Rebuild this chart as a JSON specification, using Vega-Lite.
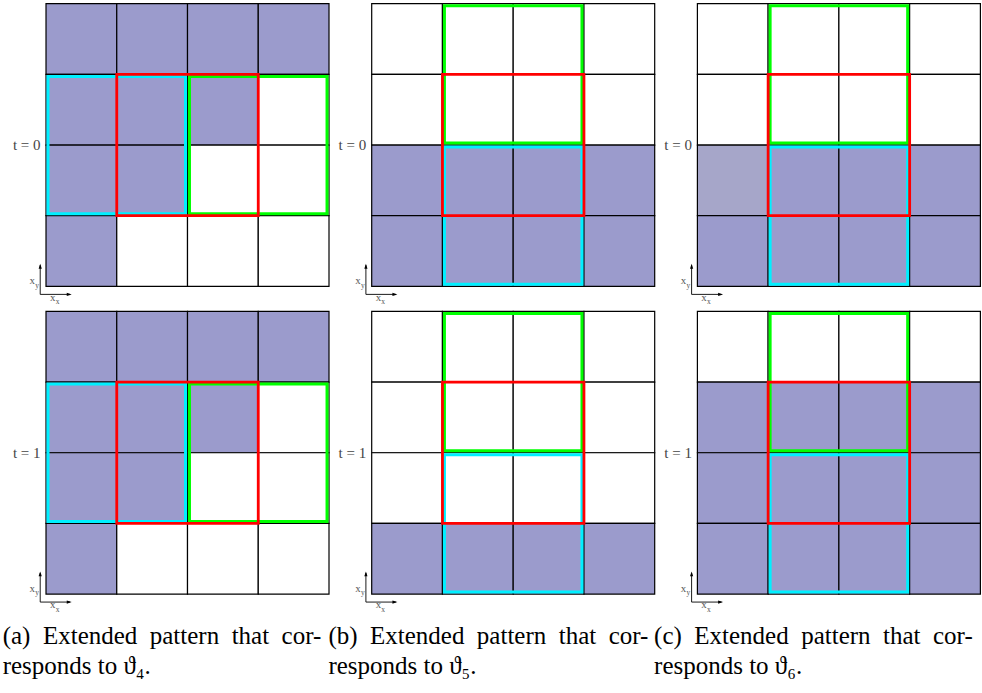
{
  "$schema": "https://vega.github.io/schema/vega-lite/v6.json",
  "background": "white",
  "padding": {"left": 2, "top": 2.7, "right": 0, "bottom": 0},
  "autosize": {"type": "pad"},
  "config": {"view": {"stroke": null}},
  "data": {"values": [
    {"k":"cell","p":"a","t":0,"r":3,"c":0,"s":"on"},{"k":"cell","p":"a","t":0,"r":3,"c":1,"s":"on"},{"k":"cell","p":"a","t":0,"r":3,"c":2,"s":"on"},{"k":"cell","p":"a","t":0,"r":3,"c":3,"s":"on"},
    {"k":"cell","p":"a","t":0,"r":2,"c":0,"s":"on"},{"k":"cell","p":"a","t":0,"r":2,"c":1,"s":"on"},{"k":"cell","p":"a","t":0,"r":2,"c":2,"s":"on"},{"k":"cell","p":"a","t":0,"r":2,"c":3,"s":"off"},
    {"k":"cell","p":"a","t":0,"r":1,"c":0,"s":"on"},{"k":"cell","p":"a","t":0,"r":1,"c":1,"s":"on"},{"k":"cell","p":"a","t":0,"r":1,"c":2,"s":"off"},{"k":"cell","p":"a","t":0,"r":1,"c":3,"s":"off"},
    {"k":"cell","p":"a","t":0,"r":0,"c":0,"s":"on"},{"k":"cell","p":"a","t":0,"r":0,"c":1,"s":"off"},{"k":"cell","p":"a","t":0,"r":0,"c":2,"s":"off"},{"k":"cell","p":"a","t":0,"r":0,"c":3,"s":"off"},
    {"k":"cell","p":"a","t":1,"r":3,"c":0,"s":"on"},{"k":"cell","p":"a","t":1,"r":3,"c":1,"s":"on"},{"k":"cell","p":"a","t":1,"r":3,"c":2,"s":"on"},{"k":"cell","p":"a","t":1,"r":3,"c":3,"s":"on"},
    {"k":"cell","p":"a","t":1,"r":2,"c":0,"s":"on"},{"k":"cell","p":"a","t":1,"r":2,"c":1,"s":"on"},{"k":"cell","p":"a","t":1,"r":2,"c":2,"s":"on"},{"k":"cell","p":"a","t":1,"r":2,"c":3,"s":"off"},
    {"k":"cell","p":"a","t":1,"r":1,"c":0,"s":"on"},{"k":"cell","p":"a","t":1,"r":1,"c":1,"s":"on"},{"k":"cell","p":"a","t":1,"r":1,"c":2,"s":"off"},{"k":"cell","p":"a","t":1,"r":1,"c":3,"s":"off"},
    {"k":"cell","p":"a","t":1,"r":0,"c":0,"s":"on"},{"k":"cell","p":"a","t":1,"r":0,"c":1,"s":"off"},{"k":"cell","p":"a","t":1,"r":0,"c":2,"s":"off"},{"k":"cell","p":"a","t":1,"r":0,"c":3,"s":"off"},
    {"k":"cell","p":"b","t":0,"r":3,"c":0,"s":"off"},{"k":"cell","p":"b","t":0,"r":3,"c":1,"s":"off"},{"k":"cell","p":"b","t":0,"r":3,"c":2,"s":"off"},{"k":"cell","p":"b","t":0,"r":3,"c":3,"s":"off"},
    {"k":"cell","p":"b","t":0,"r":2,"c":0,"s":"off"},{"k":"cell","p":"b","t":0,"r":2,"c":1,"s":"off"},{"k":"cell","p":"b","t":0,"r":2,"c":2,"s":"off"},{"k":"cell","p":"b","t":0,"r":2,"c":3,"s":"off"},
    {"k":"cell","p":"b","t":0,"r":1,"c":0,"s":"on"},{"k":"cell","p":"b","t":0,"r":1,"c":1,"s":"on"},{"k":"cell","p":"b","t":0,"r":1,"c":2,"s":"on"},{"k":"cell","p":"b","t":0,"r":1,"c":3,"s":"on"},
    {"k":"cell","p":"b","t":0,"r":0,"c":0,"s":"on"},{"k":"cell","p":"b","t":0,"r":0,"c":1,"s":"on"},{"k":"cell","p":"b","t":0,"r":0,"c":2,"s":"on"},{"k":"cell","p":"b","t":0,"r":0,"c":3,"s":"on"},
    {"k":"cell","p":"b","t":1,"r":3,"c":0,"s":"off"},{"k":"cell","p":"b","t":1,"r":3,"c":1,"s":"off"},{"k":"cell","p":"b","t":1,"r":3,"c":2,"s":"off"},{"k":"cell","p":"b","t":1,"r":3,"c":3,"s":"off"},
    {"k":"cell","p":"b","t":1,"r":2,"c":0,"s":"off"},{"k":"cell","p":"b","t":1,"r":2,"c":1,"s":"off"},{"k":"cell","p":"b","t":1,"r":2,"c":2,"s":"off"},{"k":"cell","p":"b","t":1,"r":2,"c":3,"s":"off"},
    {"k":"cell","p":"b","t":1,"r":1,"c":0,"s":"off"},{"k":"cell","p":"b","t":1,"r":1,"c":1,"s":"off"},{"k":"cell","p":"b","t":1,"r":1,"c":2,"s":"off"},{"k":"cell","p":"b","t":1,"r":1,"c":3,"s":"off"},
    {"k":"cell","p":"b","t":1,"r":0,"c":0,"s":"on"},{"k":"cell","p":"b","t":1,"r":0,"c":1,"s":"on"},{"k":"cell","p":"b","t":1,"r":0,"c":2,"s":"on"},{"k":"cell","p":"b","t":1,"r":0,"c":3,"s":"on"},
    {"k":"cell","p":"c","t":0,"r":3,"c":0,"s":"off"},{"k":"cell","p":"c","t":0,"r":3,"c":1,"s":"off"},{"k":"cell","p":"c","t":0,"r":3,"c":2,"s":"off"},{"k":"cell","p":"c","t":0,"r":3,"c":3,"s":"off"},
    {"k":"cell","p":"c","t":0,"r":2,"c":0,"s":"off"},{"k":"cell","p":"c","t":0,"r":2,"c":1,"s":"off"},{"k":"cell","p":"c","t":0,"r":2,"c":2,"s":"off"},{"k":"cell","p":"c","t":0,"r":2,"c":3,"s":"off"},
    {"k":"cell","p":"c","t":0,"r":1,"c":0,"s":"light"},{"k":"cell","p":"c","t":0,"r":1,"c":1,"s":"on"},{"k":"cell","p":"c","t":0,"r":1,"c":2,"s":"on"},{"k":"cell","p":"c","t":0,"r":1,"c":3,"s":"on"},
    {"k":"cell","p":"c","t":0,"r":0,"c":0,"s":"on"},{"k":"cell","p":"c","t":0,"r":0,"c":1,"s":"on"},{"k":"cell","p":"c","t":0,"r":0,"c":2,"s":"on"},{"k":"cell","p":"c","t":0,"r":0,"c":3,"s":"on"},
    {"k":"cell","p":"c","t":1,"r":3,"c":0,"s":"off"},{"k":"cell","p":"c","t":1,"r":3,"c":1,"s":"off"},{"k":"cell","p":"c","t":1,"r":3,"c":2,"s":"off"},{"k":"cell","p":"c","t":1,"r":3,"c":3,"s":"off"},
    {"k":"cell","p":"c","t":1,"r":2,"c":0,"s":"on"},{"k":"cell","p":"c","t":1,"r":2,"c":1,"s":"on"},{"k":"cell","p":"c","t":1,"r":2,"c":2,"s":"on"},{"k":"cell","p":"c","t":1,"r":2,"c":3,"s":"on"},
    {"k":"cell","p":"c","t":1,"r":1,"c":0,"s":"on"},{"k":"cell","p":"c","t":1,"r":1,"c":1,"s":"on"},{"k":"cell","p":"c","t":1,"r":1,"c":2,"s":"on"},{"k":"cell","p":"c","t":1,"r":1,"c":3,"s":"on"},
    {"k":"cell","p":"c","t":1,"r":0,"c":0,"s":"on"},{"k":"cell","p":"c","t":1,"r":0,"c":1,"s":"on"},{"k":"cell","p":"c","t":1,"r":0,"c":2,"s":"on"},{"k":"cell","p":"c","t":1,"r":0,"c":3,"s":"on"},
    {"k":"box","p":"a","t":0,"col":"cyan","c0":0,"c1":1,"r0":1,"r1":2},{"k":"box","p":"a","t":0,"col":"green","c0":2,"c1":3,"r0":1,"r1":2},{"k":"box","p":"a","t":0,"col":"red","c0":1,"c1":2,"r0":1,"r1":2},
    {"k":"box","p":"a","t":1,"col":"cyan","c0":0,"c1":1,"r0":1,"r1":2},{"k":"box","p":"a","t":1,"col":"green","c0":2,"c1":3,"r0":1,"r1":2},{"k":"box","p":"a","t":1,"col":"red","c0":1,"c1":2,"r0":1,"r1":2},
    {"k":"box","p":"b","t":0,"col":"green","c0":1,"c1":2,"r0":2,"r1":3},{"k":"box","p":"b","t":0,"col":"cyan","c0":1,"c1":2,"r0":0,"r1":1},{"k":"box","p":"b","t":0,"col":"red","c0":1,"c1":2,"r0":1,"r1":2},
    {"k":"box","p":"b","t":1,"col":"green","c0":1,"c1":2,"r0":2,"r1":3},{"k":"box","p":"b","t":1,"col":"cyan","c0":1,"c1":2,"r0":0,"r1":1},{"k":"box","p":"b","t":1,"col":"red","c0":1,"c1":2,"r0":1,"r1":2},
    {"k":"box","p":"c","t":0,"col":"green","c0":1,"c1":2,"r0":2,"r1":3},{"k":"box","p":"c","t":0,"col":"cyan","c0":1,"c1":2,"r0":0,"r1":1},{"k":"box","p":"c","t":0,"col":"red","c0":1,"c1":2,"r0":1,"r1":2},
    {"k":"box","p":"c","t":1,"col":"green","c0":1,"c1":2,"r0":2,"r1":3},{"k":"box","p":"c","t":1,"col":"cyan","c0":1,"c1":2,"r0":0,"r1":1},{"k":"box","p":"c","t":1,"col":"red","c0":1,"c1":2,"r0":1,"r1":2},
    {"k":"lab","p":"a","t":0,"txt":"t = 0"},{"k":"lab","p":"b","t":0,"txt":"t = 0"},{"k":"lab","p":"c","t":0,"txt":"t = 0"},
    {"k":"lab","p":"a","t":1,"txt":"t = 1"},{"k":"lab","p":"b","t":1,"txt":"t = 1"},{"k":"lab","p":"c","t":1,"txt":"t = 1"},
    {"k":"cap","p":"a","t":1,"l1":"(a)\u2002Extended\u2002pattern\u2002that\u2002cor-","l2":"responds to \u03d1\u2084."},
    {"k":"cap","p":"b","t":1,"l1":"(b)\u2002Extended\u2002pattern\u2002that\u2002cor-","l2":"responds to \u03d1\u2085."},
    {"k":"cap","p":"c","t":1,"l1":"(c)\u2002Extended\u2002pattern\u2002that\u2002cor-","l2":"responds to \u03d1\u2086."}
  ]},
  "facet": {
    "row": {"field": "t", "type": "ordinal", "header": null},
    "column": {"field": "p", "type": "nominal", "header": null}
  },
  "spacing": {"row": 24.7, "column": 42.7},
  "bounds": "flush",
  "spec": {
    "width": 283,
    "height": 282.7,
    "layer": [
      {
        "transform": [{"filter": "datum.k == 'cell'"}],
        "mark": {"type": "rect", "width": 70.75, "height": 70.675, "stroke": "#000000", "strokeWidth": 1.2},
        "encoding": {
          "x": {"field": "c", "type": "quantitative", "scale": {"domain": [-0.5, 3.5], "nice": false, "zero": false}, "axis": null},
          "y": {"field": "r", "type": "quantitative", "scale": {"domain": [-0.5, 3.5], "nice": false, "zero": false}, "axis": null},
          "fill": {"field": "s", "type": "nominal", "scale": {"domain": ["off", "on", "light"], "range": ["#ffffff", "#9b9bcc", "#a6a6c9"]}, "legend": null}
        }
      },
      {
        "transform": [{"filter": "datum.k == 'box' && datum.col != 'red'"}],
        "mark": {"type": "rect", "filled": false, "strokeWidth": 3, "xOffset": -33.4, "x2Offset": 33.4, "yOffset": 33.3, "y2Offset": -33.3},
        "encoding": {
          "x": {"field": "c0", "type": "quantitative", "scale": {"domain": [-0.5, 3.5], "nice": false, "zero": false}, "axis": null},
          "x2": {"field": "c1"},
          "y": {"field": "r0", "type": "quantitative", "scale": {"domain": [-0.5, 3.5], "nice": false, "zero": false}, "axis": null},
          "y2": {"field": "r1"},
          "stroke": {"field": "col", "type": "nominal", "scale": {"domain": ["red", "cyan", "green"], "range": ["#ff0000", "#00f0ff", "#00ff00"]}, "legend": null}
        }
      },
      {
        "transform": [{"filter": "datum.k == 'box' && datum.col == 'red'"}],
        "mark": {"type": "rect", "filled": false, "strokeWidth": 2.8, "xOffset": -35.375, "x2Offset": 35.375, "yOffset": 35.34, "y2Offset": -35.34},
        "encoding": {
          "x": {"field": "c0", "type": "quantitative", "scale": {"domain": [-0.5, 3.5], "nice": false, "zero": false}, "axis": null},
          "x2": {"field": "c1"},
          "y": {"field": "r0", "type": "quantitative", "scale": {"domain": [-0.5, 3.5], "nice": false, "zero": false}, "axis": null},
          "y2": {"field": "r1"},
          "stroke": {"field": "col", "type": "nominal", "scale": {"domain": ["red", "cyan", "green"], "range": ["#ff0000", "#00f0ff", "#00ff00"]}, "legend": null}
        }
      },
      {
        "transform": [{"filter": "datum.k == 'lab'"}],
        "mark": {"type": "text", "align": "right", "baseline": "middle", "dx": -5.5, "font": "Liberation Serif, Times New Roman, serif", "fontSize": 15, "color": "#444444"},
        "encoding": {
          "x": {"datum": -0.5, "type": "quantitative", "scale": {"domain": [-0.5, 3.5], "nice": false, "zero": false}, "axis": null},
          "y": {"datum": 1.5, "type": "quantitative", "scale": {"domain": [-0.5, 3.5], "nice": false, "zero": false}, "axis": null},
          "text": {"field": "txt"}
        }
      },
      {
        "transform": [{"filter": "datum.k == 'lab'"}],
        "mark": {"type": "rule", "color": "#000000", "strokeWidth": 0.9},
        "encoding": {
          "x": {"datum": -0.582, "type": "quantitative", "scale": {"domain": [-0.5, 3.5], "nice": false, "zero": false}, "axis": null},
          "y": {"datum": -0.613, "type": "quantitative", "scale": {"domain": [-0.5, 3.5], "nice": false, "zero": false}, "axis": null},
          "y2": {"datum": -0.2}
        }
      },
      {
        "transform": [{"filter": "datum.k == 'lab'"}],
        "mark": {"type": "rule", "color": "#000000", "strokeWidth": 0.9},
        "encoding": {
          "x": {"datum": -0.582, "type": "quantitative", "scale": {"domain": [-0.5, 3.5], "nice": false, "zero": false}, "axis": null},
          "x2": {"datum": -0.16},
          "y": {"datum": -0.613, "type": "quantitative", "scale": {"domain": [-0.5, 3.5], "nice": false, "zero": false}, "axis": null}
        }
      },
      {
        "transform": [{"filter": "datum.k == 'lab'"}],
        "mark": {"type": "point", "shape": "M0,0L0.45,1.4L-0.45,1.4Z", "filled": true, "color": "#000000", "size": 50, "opacity": 1},
        "encoding": {
          "x": {"datum": -0.582, "type": "quantitative", "scale": {"domain": [-0.5, 3.5], "nice": false, "zero": false}, "axis": null},
          "y": {"datum": -0.179, "type": "quantitative", "scale": {"domain": [-0.5, 3.5], "nice": false, "zero": false}, "axis": null}
        }
      },
      {
        "transform": [{"filter": "datum.k == 'lab'"}],
        "mark": {"type": "point", "shape": "M0,0L-1.4,0.45L-1.4,-0.45Z", "filled": true, "color": "#000000", "size": 50, "opacity": 1},
        "encoding": {
          "x": {"datum": -0.137, "type": "quantitative", "scale": {"domain": [-0.5, 3.5], "nice": false, "zero": false}, "axis": null},
          "y": {"datum": -0.613, "type": "quantitative", "scale": {"domain": [-0.5, 3.5], "nice": false, "zero": false}, "axis": null}
        }
      },
      {
        "transform": [{"filter": "datum.k == 'lab'"}],
        "mark": {"type": "text", "text": "x", "align": "center", "baseline": "middle", "font": "Liberation Serif, Times New Roman, serif", "fontSize": 11, "color": "#555555"},
        "encoding": {
          "x": {"datum": -0.695, "type": "quantitative", "scale": {"domain": [-0.5, 3.5], "nice": false, "zero": false}, "axis": null},
          "y": {"datum": -0.43, "type": "quantitative", "scale": {"domain": [-0.5, 3.5], "nice": false, "zero": false}, "axis": null}
        }
      },
      {
        "transform": [{"filter": "datum.k == 'lab'"}],
        "mark": {"type": "text", "text": "y", "align": "center", "baseline": "middle", "font": "Liberation Serif, Times New Roman, serif", "fontSize": 7.5, "color": "#555555"},
        "encoding": {
          "x": {"datum": -0.626, "type": "quantitative", "scale": {"domain": [-0.5, 3.5], "nice": false, "zero": false}, "axis": null},
          "y": {"datum": -0.49, "type": "quantitative", "scale": {"domain": [-0.5, 3.5], "nice": false, "zero": false}, "axis": null}
        }
      },
      {
        "transform": [{"filter": "datum.k == 'lab'"}],
        "mark": {"type": "text", "text": "x", "align": "center", "baseline": "middle", "font": "Liberation Serif, Times New Roman, serif", "fontSize": 11, "color": "#555555"},
        "encoding": {
          "x": {"datum": -0.405, "type": "quantitative", "scale": {"domain": [-0.5, 3.5], "nice": false, "zero": false}, "axis": null},
          "y": {"datum": -0.66, "type": "quantitative", "scale": {"domain": [-0.5, 3.5], "nice": false, "zero": false}, "axis": null}
        }
      },
      {
        "transform": [{"filter": "datum.k == 'lab'"}],
        "mark": {"type": "text", "text": "x", "align": "center", "baseline": "middle", "font": "Liberation Serif, Times New Roman, serif", "fontSize": 7.5, "color": "#555555"},
        "encoding": {
          "x": {"datum": -0.337, "type": "quantitative", "scale": {"domain": [-0.5, 3.5], "nice": false, "zero": false}, "axis": null},
          "y": {"datum": -0.72, "type": "quantitative", "scale": {"domain": [-0.5, 3.5], "nice": false, "zero": false}, "axis": null}
        }
      },
      {
        "transform": [{"filter": "datum.k == 'cap'"}],
        "mark": {"type": "text", "align": "left", "baseline": "alphabetic", "dx": -43.3, "dy": 50, "font": "Liberation Serif, Times New Roman, serif", "fontSize": 25, "color": "#000000"},
        "encoding": {
          "x": {"datum": -0.5, "type": "quantitative", "scale": {"domain": [-0.5, 3.5], "nice": false, "zero": false}, "axis": null},
          "y": {"datum": -0.5, "type": "quantitative", "scale": {"domain": [-0.5, 3.5], "nice": false, "zero": false}, "axis": null},
          "text": {"field": "l1"}
        }
      },
      {
        "transform": [{"filter": "datum.k == 'cap'"}],
        "mark": {"type": "text", "align": "left", "baseline": "alphabetic", "dx": -43.3, "dy": 80, "font": "Liberation Serif, Times New Roman, serif", "fontSize": 25, "color": "#000000"},
        "encoding": {
          "x": {"datum": -0.5, "type": "quantitative", "scale": {"domain": [-0.5, 3.5], "nice": false, "zero": false}, "axis": null},
          "y": {"datum": -0.5, "type": "quantitative", "scale": {"domain": [-0.5, 3.5], "nice": false, "zero": false}, "axis": null},
          "text": {"field": "l2"}
        }
      }
    ]
  }
}
